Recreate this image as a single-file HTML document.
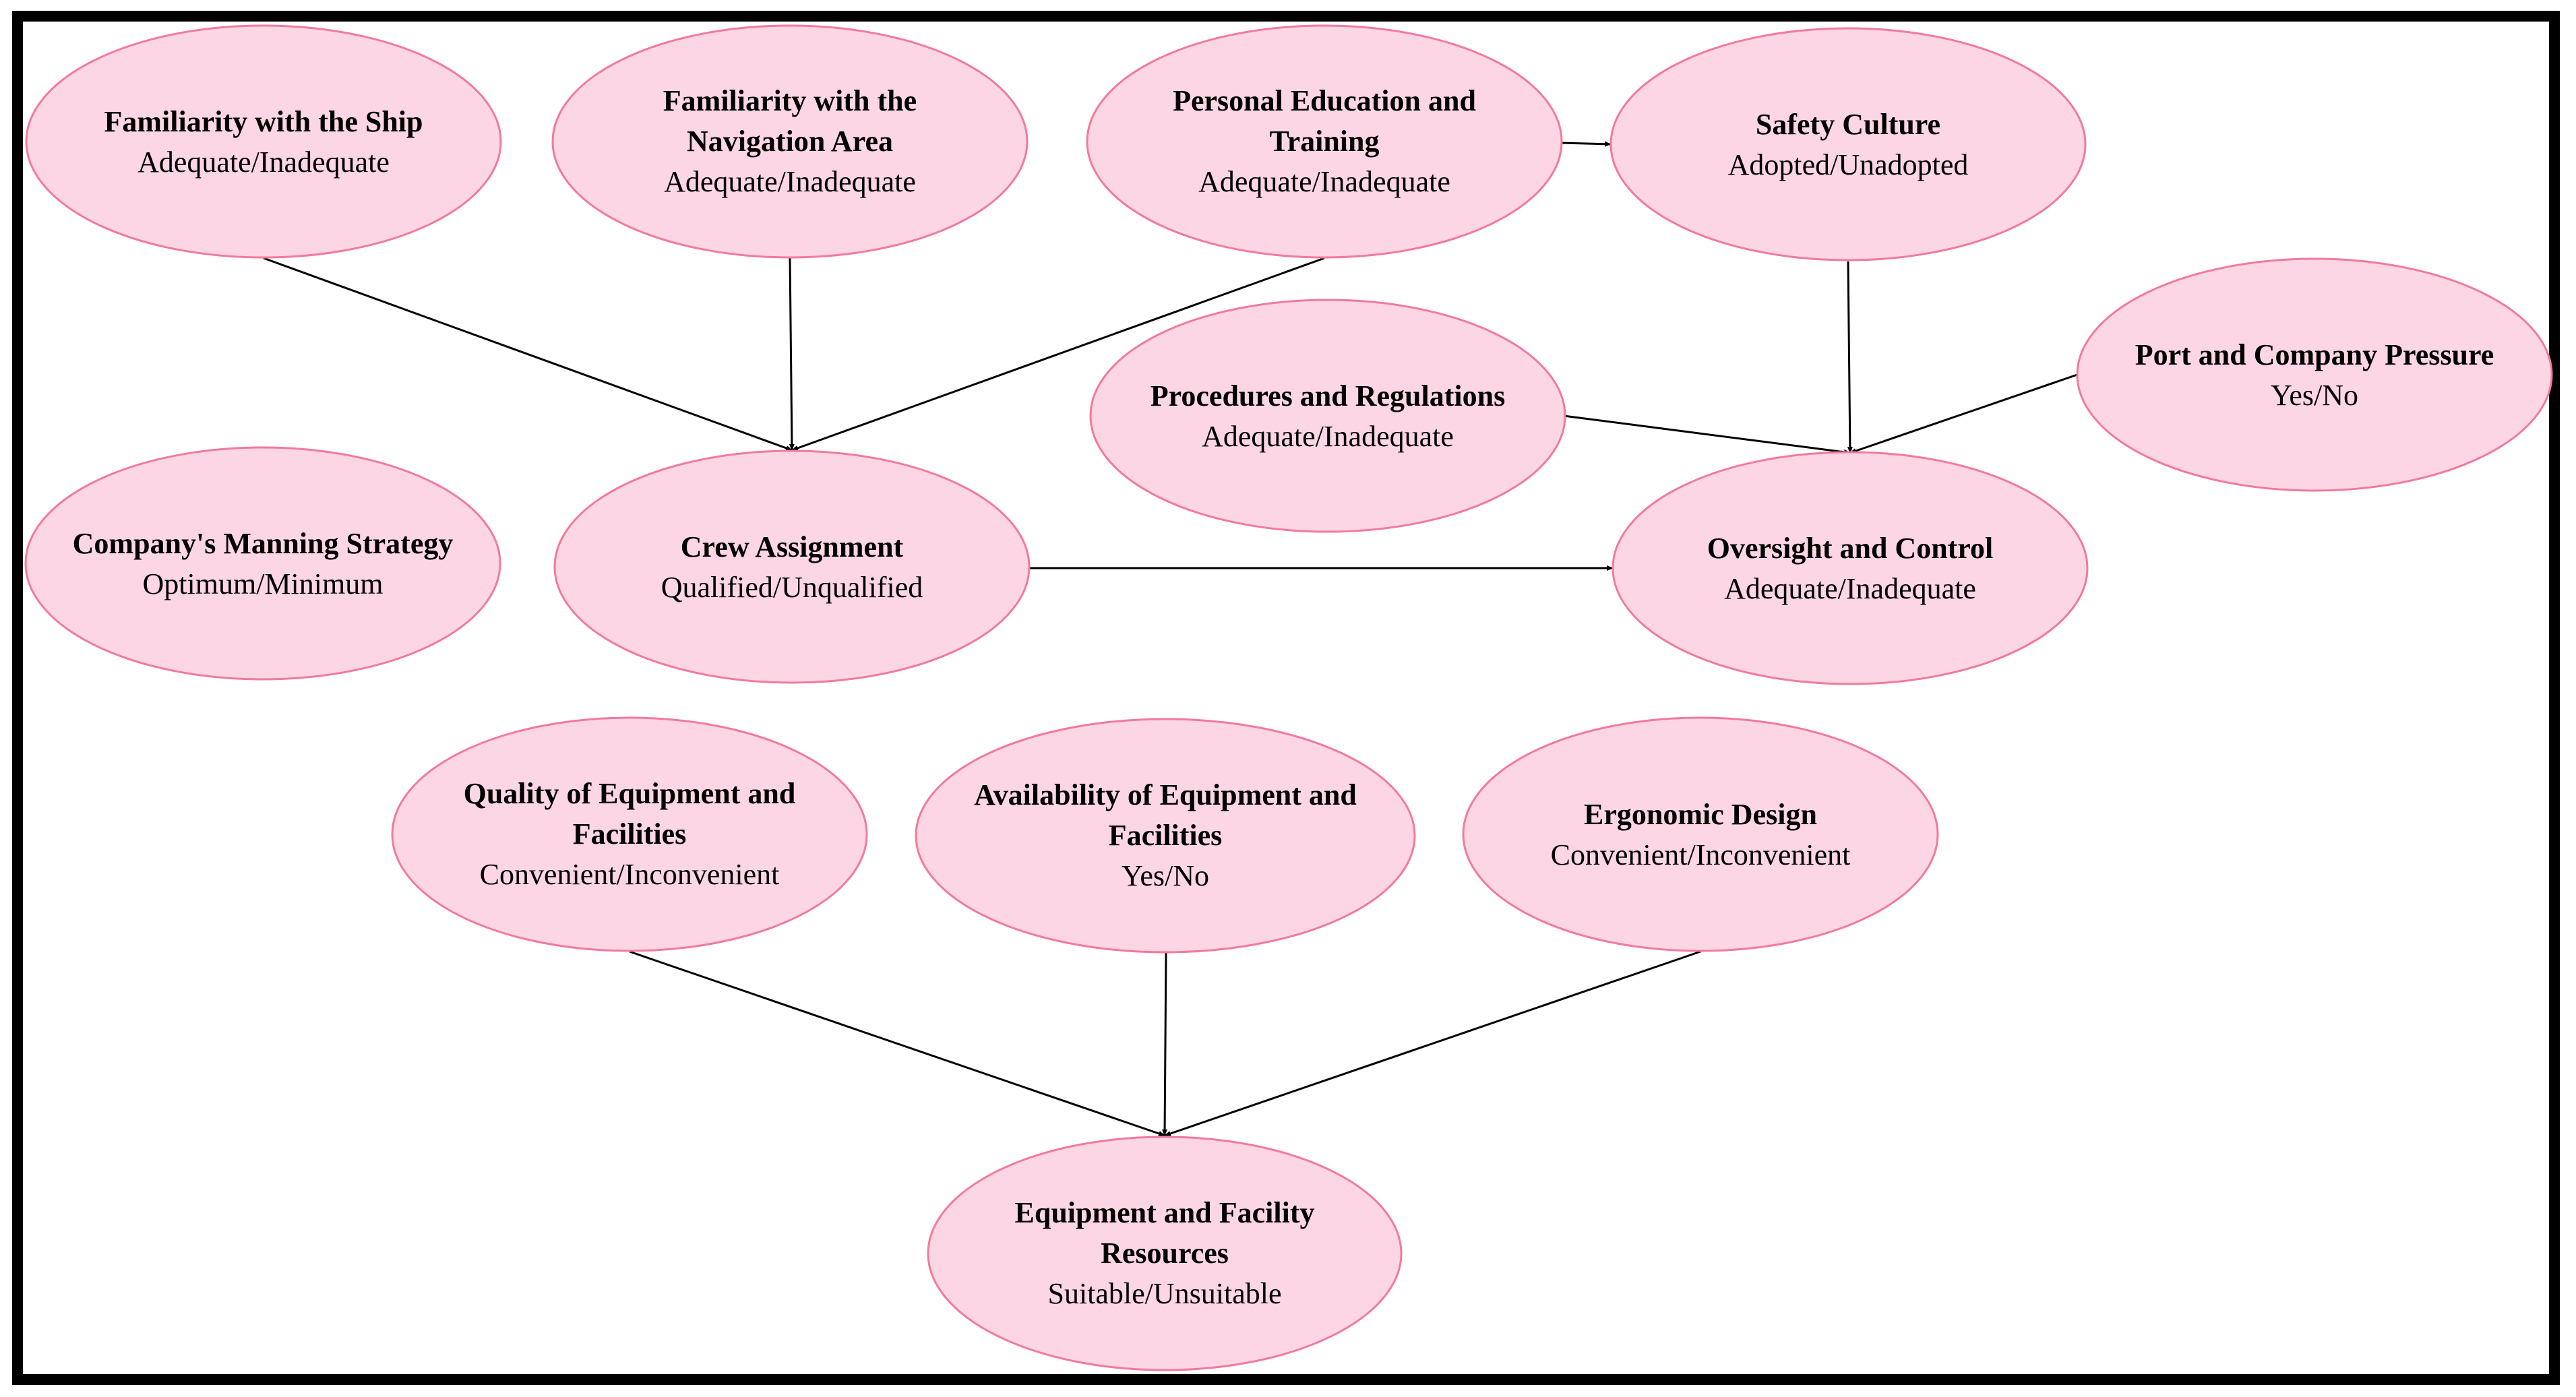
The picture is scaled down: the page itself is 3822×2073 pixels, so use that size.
<!DOCTYPE html>
<html><head><meta charset="utf-8"><style>
html,body{margin:0;padding:0;background:#fff;}
svg{display:block;}
text{font-family:"Liberation Serif",serif;font-size:44px;fill:#000;text-anchor:middle;}
.b{font-weight:bold;}
</style></head><body>
<svg width="3822" height="2073" viewBox="0 0 3822 2073" xmlns="http://www.w3.org/2000/svg">
<defs><marker id="a" markerWidth="10" markerHeight="10" refX="9" refY="5" orient="auto" markerUnits="userSpaceOnUse"><path d="M0,1 L10,5 L0,9 z" fill="#000"/></marker></defs>
<rect x="0" y="0" width="3822" height="2073" fill="#fff"/>
<rect x="26" y="24" width="3764" height="2023" fill="none" stroke="#000" stroke-width="16"/>
<g stroke="#000" stroke-width="3" marker-end="url(#a)">
<line x1="391" y1="383" x2="1175" y2="668"/>
<line x1="1172" y1="383" x2="1175" y2="668"/>
<line x1="1965" y1="383" x2="1175" y2="668"/>
<line x1="2316" y1="212" x2="2390" y2="214"/>
<line x1="2742" y1="388" x2="2745" y2="672"/>
<line x1="2320" y1="617" x2="2745" y2="672"/>
<line x1="3082" y1="556" x2="2745" y2="672"/>
<line x1="1527" y1="843" x2="2393" y2="843"/>
<line x1="934" y1="1412" x2="1728" y2="1685"/>
<line x1="1730" y1="1413" x2="1728" y2="1685"/>
<line x1="2523" y1="1412" x2="1728" y2="1685"/>
</g>
<g fill="#fdd6e5" stroke="#f27a9c" stroke-width="3">
<ellipse cx="391" cy="210" rx="352" ry="172"/>
<ellipse cx="1172" cy="210" rx="352" ry="172"/>
<ellipse cx="1965" cy="210" rx="352" ry="172"/>
<ellipse cx="2742" cy="214" rx="352" ry="172"/>
<ellipse cx="1970" cy="617" rx="352" ry="172"/>
<ellipse cx="3434" cy="556" rx="352" ry="172"/>
<ellipse cx="390" cy="836" rx="352" ry="172"/>
<ellipse cx="1175" cy="841" rx="352" ry="172"/>
<ellipse cx="2745" cy="843" rx="352" ry="172"/>
<ellipse cx="934" cy="1238" rx="352" ry="173"/>
<ellipse cx="1729" cy="1240" rx="370" ry="173"/>
<ellipse cx="2523" cy="1238" rx="352" ry="173"/>
<ellipse cx="1728" cy="1860" rx="351" ry="173"/>
</g>
<text class="b" x="391" y="195">Familiarity with the Ship</text><text x="391" y="255">Adequate/Inadequate</text>
<text class="b" x="1172" y="164">Familiarity with the</text><text class="b" x="1172" y="224">Navigation Area</text><text x="1172" y="284">Adequate/Inadequate</text>
<text class="b" x="1965" y="164">Personal Education and</text><text class="b" x="1965" y="224">Training</text><text x="1965" y="284">Adequate/Inadequate</text>
<text class="b" x="2742" y="199">Safety Culture</text><text x="2742" y="259">Adopted/Unadopted</text>
<text class="b" x="1970" y="602">Procedures and Regulations</text><text x="1970" y="662">Adequate/Inadequate</text>
<text class="b" x="3434" y="541">Port and Company Pressure</text><text x="3434" y="601">Yes/No</text>
<text class="b" x="390" y="821">Company's Manning Strategy</text><text x="390" y="881">Optimum/Minimum</text>
<text class="b" x="1175" y="826">Crew Assignment</text><text x="1175" y="886">Qualified/Unqualified</text>
<text class="b" x="2745" y="828">Oversight and Control</text><text x="2745" y="888">Adequate/Inadequate</text>
<text class="b" x="934" y="1192">Quality of Equipment and</text><text class="b" x="934" y="1252">Facilities</text><text x="934" y="1312">Convenient/Inconvenient</text>
<text class="b" x="1729" y="1194">Availability of Equipment and</text><text class="b" x="1729" y="1254">Facilities</text><text x="1729" y="1314">Yes/No</text>
<text class="b" x="2523" y="1223">Ergonomic Design</text><text x="2523" y="1283">Convenient/Inconvenient</text>
<text class="b" x="1728" y="1814">Equipment and Facility</text><text class="b" x="1728" y="1874">Resources</text><text x="1728" y="1934">Suitable/Unsuitable</text>
</svg>
</body></html>
